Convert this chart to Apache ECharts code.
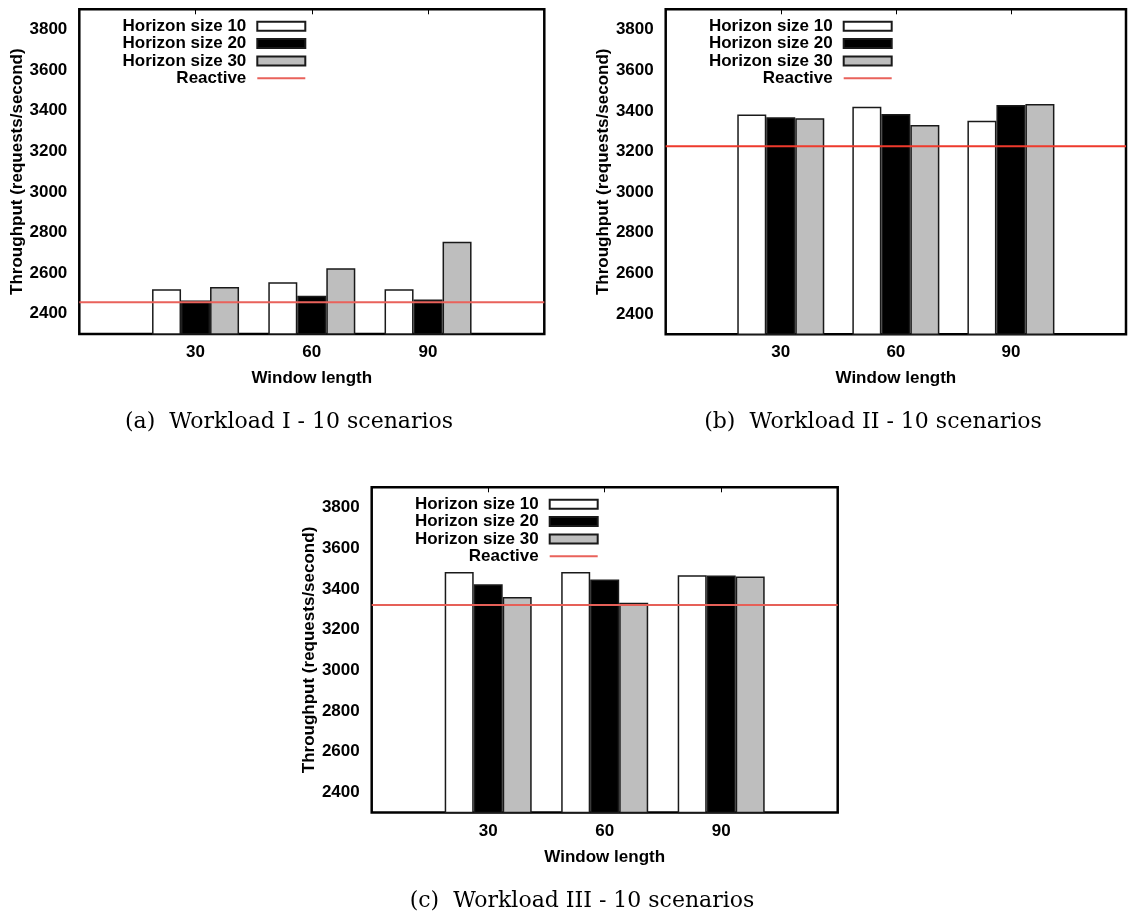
<!DOCTYPE html>
<html>
<head>
<meta charset="utf-8">
<script src="https://cdn.jsdelivr.net/npm/echarts@6/dist/echarts.min.js"></script>
<style>
  html, body { margin: 0; padding: 0; background: #fff; }
  #chart { width: 1129px; height: 913px; }
</style>
</head>
<body>
<div id="chart"></div>
<script>
// window lengths (padded with empty slots so the axis runs from -1 to 3)
var categories = ['30', '60', '90'];
var seriesNames = ['Horizon size 10', 'Horizon size 20', 'Horizon size 30'];
var yTicks = [2400, 2600, 2800, 3000, 3200, 3400, 3600, 3800];

// Workload I
var wl1H10 = [2521, 2555, 2521];
var wl1H20 = [2465, 2488, 2470];
var wl1H30 = [2531, 2624, 2754];
var wl1Reactive = 2457;

// Workload II
var wl2H10 = [3382, 3420, 3351];
var wl2H20 = [3369, 3384, 3429];
var wl2H30 = [3364, 3330, 3434];
var wl2Reactive = 3226;

// Workload III
var wl3H10 = [3484, 3484, 3468];
var wl3H20 = [3423, 3446, 3466];
var wl3H30 = [3361, 3332, 3461];
var wl3Reactive = 3321;

var captions = [
    '(a)  Workload I - 10 scenarios',
    '(b)  Workload II - 10 scenarios',
    '(c)  Workload III - 10 scenarios'
];

var chart = echarts.init(document.getElementById('chart'));

var sans = 'Liberation Sans';
var barFills = ['#ffffff', '#000000', '#bebebe'];

var panels = [
    { left: 79.3, top: 9.3, width: 465, height: 324.7, red: '#e9625b',
      data: [wl1H10, wl1H20, wl1H30], reactive: wl1Reactive, capX: 289, capY: 422 },
    { left: 665.7, top: 9.3, width: 465, height: 325, red: '#ee3a2c',
      data: [wl2H10, wl2H20, wl2H30], reactive: wl2Reactive, capX: 873, capY: 422 },
    { left: 371.7, top: 487.3, width: 466, height: 325.3, red: '#e66058',
      data: [wl3H10, wl3H20, wl3H30], reactive: wl3Reactive, capX: 582, capY: 901 }
];

var axisCats = [''].concat(categories, ['']);

var grids = [], xAxes = [], yAxes = [], series = [], legends = [], graphics = [];

panels.forEach(function (p, i) {
    grids.push({
        left: p.left, top: p.top, width: p.width, height: p.height,
        show: true, borderColor: '#000', borderWidth: 2.5, backgroundColor: 'transparent'
    });

    xAxes.push({
        gridIndex: i, type: 'category', data: axisCats, boundaryGap: false,
        axisLine: { show: false },
        axisTick: { inside: true, length: 5, lineStyle: { color: '#000' } },
        axisLabel: { color: '#000', fontFamily: sans, fontWeight: 'bold', fontSize: 17, margin: 10 },
        name: 'Window length', nameLocation: 'middle', nameGap: 36,
        nameTextStyle: { color: '#000', fontFamily: sans, fontWeight: 'bold', fontSize: 17 }
    });
    xAxes.push({
        gridIndex: i, type: 'category', data: axisCats, boundaryGap: false, position: 'top',
        axisLine: { show: false },
        axisTick: { inside: true, length: 5, lineStyle: { color: '#000' } },
        axisLabel: { show: false }
    });

    yAxes.push({
        gridIndex: i, type: 'value', min: 2300, max: 3900,
        splitLine: { show: false },
        axisLine: { show: false },
        axisTick: { inside: true, length: 5, customValues: yTicks, lineStyle: { color: '#000' } },
        axisLabel: {
            customValues: yTicks, color: '#000', fontFamily: sans, fontWeight: 'bold', fontSize: 17, margin: 12,
            formatter: function (v) { return String(v); }
        },
        name: 'Throughput (requests/second)', nameLocation: 'middle', nameGap: 47,
        nameTextStyle: { color: '#000', fontFamily: sans, fontWeight: 'bold', fontSize: 17 }
    });
    yAxes.push({
        gridIndex: i, type: 'value', min: 2300, max: 3900, position: 'right',
        splitLine: { show: false },
        axisLine: { show: false },
        axisTick: { inside: true, length: 5, customValues: yTicks, lineStyle: { color: '#000' } },
        axisLabel: { show: false }
    });

    p.data.forEach(function (vals, k) {
        series.push({
            name: seriesNames[k], type: 'bar',
            xAxisIndex: 2 * i, yAxisIndex: 2 * i,
            data: ['-'].concat(vals, ['-']),
            barWidth: 29, barGap: '0%',
            itemStyle: { color: barFills[k], borderColor: '#1a1a1a', borderWidth: 1.5 }
        });
    });

    series.push({
        name: 'Reactive', type: 'line',
        xAxisIndex: 2 * i, yAxisIndex: 2 * i,
        data: axisCats.map(function () { return p.reactive; }),
        symbol: 'none', z: 5,
        lineStyle: { color: p.red, width: 2 }
    });

    legends.push({
        orient: 'vertical', align: 'right',
        right: 1129 - (p.left + 232), top: p.top + 3.5,
        itemWidth: 48, itemHeight: 9, itemGap: 0.3,
        data: seriesNames.map(function (n) { return { name: n, icon: 'rect' }; })
            .concat([{ name: 'Reactive', itemStyle: { opacity: 0 } }]),
        textStyle: { color: '#000', fontFamily: sans, fontWeight: 'bold', fontSize: 17, padding: [0, 6, 0, 0] }
    });

    graphics.push({
        type: 'text', x: p.capX, y: p.capY,
        style: { text: captions[i], fill: '#000', font: '22px "DejaVu Serif"', textAlign: 'center', textVerticalAlign: 'middle' }
    });
});

chart.setOption({
    animation: false,
    grid: grids,
    xAxis: xAxes,
    yAxis: yAxes,
    legend: legends,
    series: series,
    graphic: graphics
});
</script>
</body>
</html>
